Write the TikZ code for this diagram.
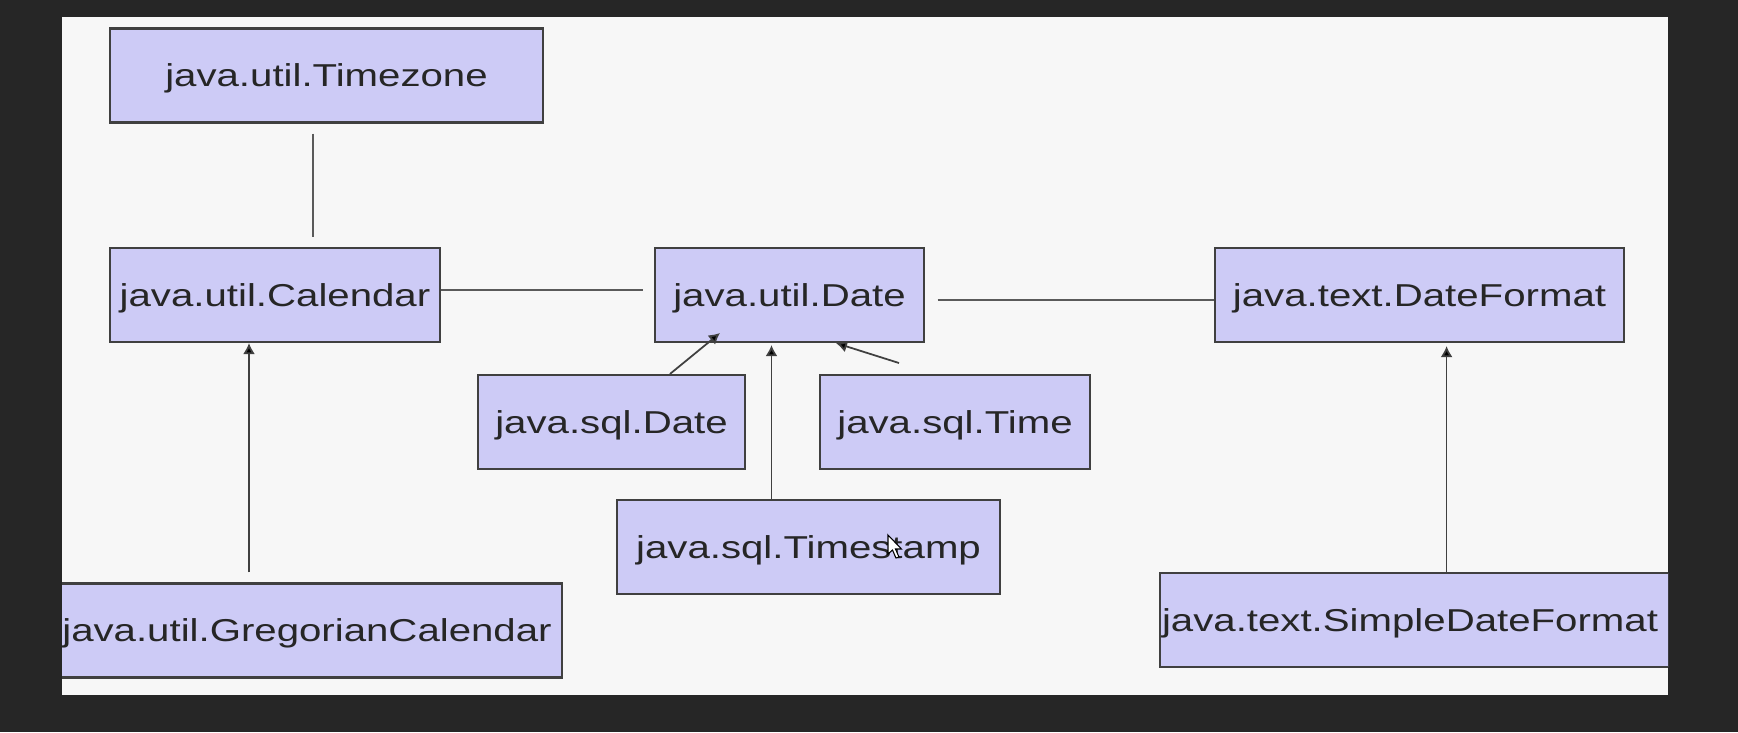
\documentclass[tikz,border=0pt]{standalone}
\usepackage{fontspec}
\usepackage{tikz}
\usetikzlibrary{arrows.meta}

\newfontfamily\javafont{Liberation Sans}[FakeStretch=1.27]
\definecolor{board}{RGB}{38,38,38}
\definecolor{sheet}{RGB}{247,247,247}
\definecolor{classfill}{RGB}{205,203,246}
\definecolor{classline}{RGB}{64,64,64}
\definecolor{linkgray}{RGB}{90,90,90}

\begin{document}
\begin{tikzpicture}[x=0.01cm, y=-0.01cm,
  classbox/.style={draw=classline, fill=classfill, line width=0.6pt, inner sep=0pt,
    minimum height=0.94cm, text height=6.5pt, text depth=0pt,
    font=\javafont\fontsize{9pt}{11pt}\selectfont, text=black!85},
  link/.style={draw=linkgray, line width=0.45pt},
  inherit/.style={draw=black!75, line width=0.5pt, -{Latex[length=0.11cm, width=0.12cm, fill=black]}}]
\useasboundingbox (0,0) rectangle (1738,732);
\fill[board] (0,0) rectangle (1738,732);
\fill[sheet] (62,17) rectangle (1668,695);
\begin{scope}
\clip (62,17) rectangle (1668,695);
% classes
\node[classbox, minimum width=4.33cm] (tz) at (326.5,75.5) {java.util.Timezone};
\node[classbox, minimum width=3.30cm] (cal) at (275,295) {java.util.Calendar};
\node[classbox, minimum width=2.69cm] (date) at (789.5,295) {java.util.Date};
\node[classbox, minimum width=4.09cm] (fmt) at (1419.5,295) {java.text.DateFormat};
\node[classbox, minimum width=2.67cm] (sqldate) at (611.5,422) {java.sql.Date};
\node[classbox, minimum width=2.70cm] (sqltime) at (955,422) {java.sql.Time};
\node[classbox, minimum width=3.83cm] (stamp) at (808.5,547) {java.sql.Timestamp};
\node[classbox, minimum width=5.10cm] (greg) at (307,630.5) {java.util.GregorianCalendar};
\node[classbox, anchor=west, text width=5.3cm, align=left, inner xsep=0.02cm] (simple) at (1159,620) {java.text.SimpleDateFormat};
% plain associations
\coordinate (tzcal) at (313,0);
\coordinate (calrow) at (0,290);
\coordinate (fmtrow) at (0,300);
\draw[link, shorten <=0.1cm, shorten >=0.1cm] (tz.south -| tzcal) -- (cal.north -| tzcal);
\draw[link, shorten >=0.11cm] (cal.east |- calrow) -- (date.west |- calrow);
\draw[link, shorten <=0.125cm] (date.east |- fmtrow) -- (fmt.west |- fmtrow);
% subclasses
\coordinate (gregup) at (249,0);
\coordinate (sqldatefoot) at (670,0);
\coordinate (sqldatetip) at (720,333);
\coordinate (stampup) at (771.5,0);
\coordinate (timefoot) at (899,363);
\coordinate (timetip) at (836,0);
\coordinate (fmtup) at (1446.6,0);
\draw[inherit, shorten <=0.1cm] (greg.north -| gregup) -- (cal.south -| gregup);
\draw[inherit] (sqldate.north -| sqldatefoot) -- (sqldatetip);
\draw[inherit, shorten >=0.02cm] (stamp.north -| stampup) -- (date.south -| stampup);
\draw[inherit] (timefoot) -- (date.south -| timetip);
\draw[inherit, shorten >=0.03cm] (simple.north -| fmtup) -- (fmt.south -| fmtup);
% mouse pointer
\draw[fill=white, draw=black, line width=0.3pt, shift={(888,535)}] (0,0) -- (0,19) -- (4.5,15) -- (8,23) -- (11,22) -- (7.5,14) -- (13.5,14) -- cycle;
\end{scope}
\end{tikzpicture}
\end{document}
